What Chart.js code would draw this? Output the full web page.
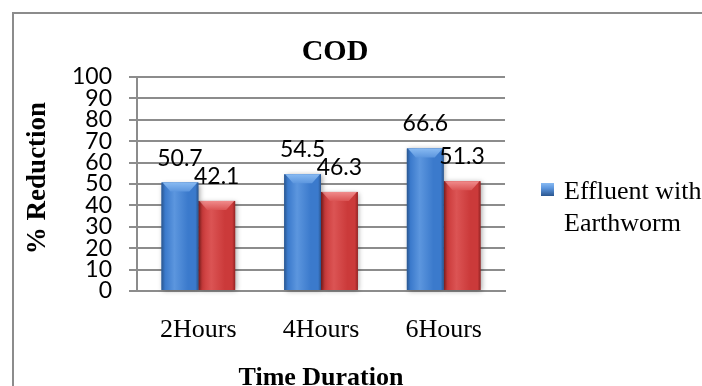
<!DOCTYPE html>
<html>
<head>
<meta charset="utf-8">
<script src="https://cdn.jsdelivr.net/npm/chart.js@4.4.1/dist/chart.umd.min.js"></script>
<style>
  html, body { margin: 0; padding: 0; background: #fff; overflow: hidden; }
  canvas { display: block; }
</style>
</head>
<body>
<canvas id="c" width="702" height="386"></canvas>
<script>
// ---- data ----
const categories = ['2Hours', '4Hours', '6Hours'];
const withEarthworm = [50.7, 54.5, 66.6];
const withoutEarthworm = [42.1, 46.3, 51.3];
const seriesNames = ['Effluent with Earthworm', 'Effluent without Earthworm'];
const yMin = 0, yMax = 100, yStep = 10;
const chartTitle = 'COD';
const yTitle = '% Reduction';
const xTitle = 'Time Duration';

// ---- styling ----
const SERIF = '"Liberation Serif", "Times New Roman", serif';
const SANS = 'Lato, "Liberation Sans", sans-serif';
const GRID = '#8c8c8c';
const palettes = [
  { base: '#3b7acc', dark: '#2a568f', light: '#5c96de', top: '#88baf2' },
  { base: '#cb3a3a', dark: '#952424', light: '#db5454', top: '#f08c8c' }
];

// bevelled, shaded bars painted over each bar element
const bevelBars = {
  id: 'bevelBars',
  afterDatasetDraw(chart, args) {
    const ctx = chart.ctx;
    const pal = palettes[args.index];
    args.meta.data.forEach(bar => {
      const { x, y, base, width } = bar.getProps(['x', 'y', 'base', 'width'], true);
      const l = x - width / 2, r = x + width / 2;
      const t = Math.min(y, base), b = Math.max(y, base);
      ctx.save();
      ctx.shadowColor = 'rgba(0,0,0,0.35)';
      ctx.shadowBlur = 5;
      ctx.shadowOffsetX = 1.5;
      ctx.shadowOffsetY = 1;
      const g = ctx.createLinearGradient(l, 0, r, 0);
      g.addColorStop(0, pal.dark);
      g.addColorStop(0.1, pal.base);
      g.addColorStop(0.35, pal.light);
      g.addColorStop(0.72, pal.base);
      g.addColorStop(0.92, pal.base);
      g.addColorStop(1, pal.dark);
      ctx.fillStyle = g;
      ctx.fillRect(l, t, r - l, b - t);
      ctx.restore();
      // top bevel
      const bv = Math.min(9, (b - t) / 2, width / 4);
      const tg = ctx.createLinearGradient(0, t, 0, t + bv);
      tg.addColorStop(0, pal.top);
      tg.addColorStop(1, pal.light);
      ctx.save();
      ctx.fillStyle = tg;
      ctx.beginPath();
      ctx.moveTo(l + 1, t);
      ctx.lineTo(r - 1, t);
      ctx.lineTo(r - bv, t + bv);
      ctx.lineTo(l + bv, t + bv);
      ctx.closePath();
      ctx.fill();
      ctx.restore();
    });
  }
};

// value labels above every bar
const valueLabels = {
  id: 'valueLabels',
  afterDatasetsDraw(chart) {
    const ctx = chart.ctx;
    ctx.save();
    ctx.font = '23px ' + SANS;
    ctx.fillStyle = '#000';
    ctx.textAlign = 'center';
    ctx.textBaseline = 'alphabetic';
    chart.data.datasets.forEach((ds, i) => {
      chart.getDatasetMeta(i).data.forEach((bar, j) => {
        ctx.fillText(String(ds.data[j]), bar.x, bar.y - 17);
      });
    });
    ctx.restore();
  }
};

// frame, titles and the legend entry
const decorations = {
  id: 'decorations',
  beforeDraw(chart) {
    const ctx = chart.ctx;
    ctx.save();
    ctx.fillStyle = '#fff';
    ctx.fillRect(0, 0, chart.width, chart.height);
    // the frame continues past the right and bottom edges
    ctx.strokeStyle = '#8c8c8c';
    ctx.lineWidth = 2;
    ctx.beginPath();
    ctx.moveTo(13, chart.height + 5);
    ctx.lineTo(13, 13);
    ctx.lineTo(chart.width + 5, 13);
    ctx.stroke();
    ctx.restore();
  },
  afterDraw(chart) {
    const ctx = chart.ctx;
    const area = chart.chartArea;
    ctx.save();
    ctx.fillStyle = '#000';

    // chart title
    ctx.font = 'bold 30px ' + SERIF;
    ctx.textAlign = 'center';
    ctx.textBaseline = 'alphabetic';
    ctx.fillText(chartTitle, 335, 60);

    // x axis title
    ctx.font = 'bold 26px ' + SERIF;
    ctx.fillText(xTitle, (area.left + area.right) / 2, 385);

    // y axis title
    ctx.save();
    ctx.translate(38, 178);
    ctx.rotate(-Math.PI / 2);
    ctx.font = 'bold 27px ' + SERIF;
    ctx.textBaseline = 'middle';
    ctx.fillText(yTitle, 0, 0);
    ctx.restore();

    // legend entry for the first series (wrapped)
    const pal = palettes[0];
    const mx = 541, my = 183, ms = 13;
    const mg = ctx.createLinearGradient(0, my, 0, my + ms);
    mg.addColorStop(0, pal.top);
    mg.addColorStop(0.4, pal.light);
    mg.addColorStop(1, pal.dark);
    ctx.fillStyle = mg;
    ctx.fillRect(mx, my, ms, ms);
    ctx.fillStyle = '#000';
    ctx.font = '26px ' + SERIF;
    ctx.textAlign = 'left';
    const words = chart.data.datasets[0].label.split(' ');
    const lines = [];
    let cur = '';
    const maxW = 160;
    words.forEach(w => {
      const test = cur ? cur + ' ' + w : w;
      if (cur && ctx.measureText(test).width > maxW) { lines.push(cur); cur = w; }
      else cur = test;
    });
    if (cur) lines.push(cur);
    lines.forEach((ln, k) => ctx.fillText(ln, 564, 199 + k * 32));
    ctx.restore();
  }
};

new Chart(document.getElementById('c'), {
  type: 'bar',
  data: {
    labels: categories,
    datasets: [
      { label: seriesNames[0], data: withEarthworm, backgroundColor: palettes[0].base, borderWidth: 0 },
      { label: seriesNames[1], data: withoutEarthworm, backgroundColor: palettes[1].base, borderWidth: 0 }
    ]
  },
  options: {
    responsive: false,
    animation: false,
    categoryPercentage: 0.6,
    barPercentage: 1.0,
    layout: { padding: { left: 13, right: 197, top: 77, bottom: 0 } },
    plugins: {
      legend: { display: false },
      title: { display: false },
      tooltip: { enabled: false }
    },
    scales: {
      x: {
        grid: { display: false, drawTicks: false },
        border: { display: true, color: GRID, width: 2 },
        ticks: { color: '#000', font: { family: SERIF, size: 26 }, padding: 24 },
        afterFit(scale) { scale.height = 95; }
      },
      y: {
        min: yMin,
        max: yMax,
        ticks: { stepSize: yStep, autoSkip: false, color: '#000', font: { family: SANS, size: 23 }, padding: 17 },
        grid: { color: GRID, lineWidth: 2, drawTicks: true, tickLength: 8 },
        border: { display: true, color: GRID, width: 2 },
        afterFit(scale) { scale.width = 124; }
      }
    }
  },
  plugins: [decorations, bevelBars, valueLabels]
});
</script>
</body>
</html>
